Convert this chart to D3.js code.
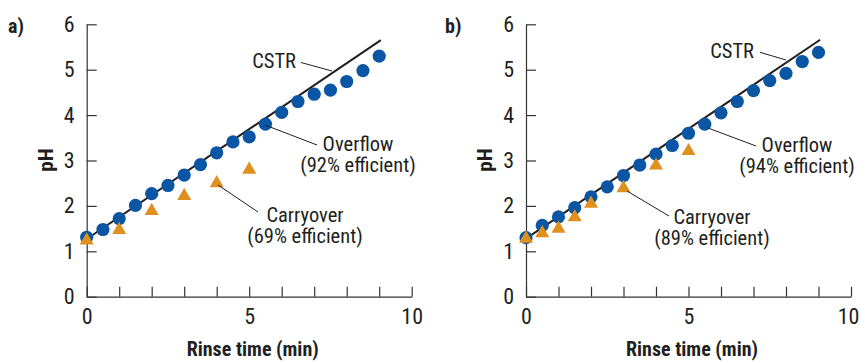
<!DOCTYPE html>
<html>
<head>
<meta charset="utf-8">
<script src="https://cdn.jsdelivr.net/npm/d3@7.9.0/dist/d3.min.js"></script>
<style>
  body { margin: 0; background: #fff; }
  svg { display: block; }
  text { font-family: "Liberation Sans Narrow", "Roboto Condensed", "DejaVu Sans Condensed", Roboto, sans-serif; fill: #231f20; }
</style>
</head>
<body>
<svg width="860" height="361"></svg>
<script>
// panel a
const overflowTimeA = [0, 0.5, 1, 1.5, 2, 2.5, 3, 3.5, 4, 4.5, 5, 5.5, 6, 6.5, 7, 7.5, 8, 8.5, 9];
const overflowPhA = [1.31, 1.48, 1.72, 2.01, 2.27, 2.45, 2.68, 2.91, 3.17, 3.41, 3.52, 3.80, 4.06, 4.30, 4.46, 4.55, 4.74, 4.98, 5.30];
const carryTimeA = [0, 1, 2, 3, 4, 5];
const carryPhA = [1.24, 1.47, 1.89, 2.22, 2.50, 2.80];
const cstrTimeA = [0, 9.05];
const cstrPhA = [1.27, 5.65];

// panel b
const overflowTimeB = [0, 0.5, 1, 1.5, 2, 2.5, 3, 3.5, 4, 4.5, 5, 5.5, 6, 6.5, 7, 7.5, 8, 8.5, 9];
const overflowPhB = [1.30, 1.57, 1.76, 1.96, 2.20, 2.42, 2.67, 2.90, 3.14, 3.33, 3.60, 3.80, 4.05, 4.30, 4.54, 4.76, 4.92, 5.18, 5.38];
const carryTimeB = [0, 0.5, 1, 1.5, 2, 3, 4, 5];
const carryPhB = [1.28, 1.40, 1.50, 1.75, 2.05, 2.39, 2.89, 3.21];
const cstrTimeB = [0, 9.05];
const cstrPhB = [1.28, 5.66];

const xTicks = [0, 1, 2, 3, 4, 5, 6, 7, 8, 9, 10];
const xTickLabels = [0, 5, 10];
const yTicks = [0, 1, 2, 3, 4, 5, 6];

const blue = '#0a56a4';
const orange = '#e0901e';
const ink = '#231f20';

const svg = d3.select('svg');

function drawPanel(p) {
  let g = svg.append('g').attr('transform', `translate(${p.left},0)`);
  let x = d3.scaleLinear().domain([0, 10]).range([0, 325]);
  let y = d3.scaleLinear().domain([0, 6]).range([296.7, 24.3]);

  let xAxis = d3.axisBottom(x).tickValues(xTicks).tickSizeInner(-10).tickSizeOuter(0).tickPadding(12)
    .tickFormat(d => xTickLabels.includes(d) ? d : '');
  let gx = g.append('g').attr('transform', 'translate(0,296.7)').call(xAxis);

  let yAxis = d3.axisLeft(y).tickValues(yTicks).tickFormat(d3.format('d'))
    .tickSizeInner(-10).tickSizeOuter(0).tickPadding(12);
  let gy = g.append('g').call(yAxis);

  [gx, gy].forEach(a => {
    a.selectAll('path, line').attr('stroke', '#333').attr('stroke-width', 1.2);
    a.selectAll('text').attr('font-size', 22).attr('font-family', null).attr('fill', ink);
  });
  // keep the last label inside the page
  gx.selectAll('.tick text').filter(d => d === 10).attr('dx', p.lastDx || 0);

  // panel letter
  g.append('text').attr('x', p.letterX - p.left).attr('y', 33)
    .attr('font-size', 20).attr('font-weight', 'bold').text(p.letter);

  // axis titles
  g.append('text').attr('transform', 'translate(-34,160) rotate(-90)')
    .attr('text-anchor', 'middle').attr('font-size', 21).attr('font-weight', 'bold').text('pH');
  g.append('text').attr('x', 166).attr('y', 356)
    .attr('text-anchor', 'middle').attr('font-size', 20).attr('font-weight', 'bold').text('Rinse time (min)');

  // CSTR line
  let line = d3.line().x(d => x(d[0])).y(d => y(d[1]));
  g.append('path').datum(d3.zip(p.cstrTime, p.cstrPh))
    .attr('d', line).attr('fill', 'none').attr('stroke', ink).attr('stroke-width', 2);

  // overflow circles
  g.selectAll('.dot').data(d3.zip(p.overTime, p.overPh)).join('circle')
    .attr('class', 'dot')
    .attr('cx', d => x(d[0])).attr('cy', d => y(d[1])).attr('r', 6.6).attr('fill', blue);

  // carryover triangles
  let tri = d3.symbol().type(d3.symbolTriangle).size(85);
  g.selectAll('.tri').data(d3.zip(p.carryTime, p.carryPh)).join('path')
    .attr('class', 'tri')
    .attr('d', tri)
    .attr('transform', d => `translate(${x(d[0])},${y(d[1])})`)
    .attr('fill', orange);

  // annotations
  p.notes.forEach(n => {
    g.append('line')
      .attr('x1', n.line[0] - p.left).attr('y1', n.line[1])
      .attr('x2', n.line[2] - p.left).attr('y2', n.line[3])
      .attr('stroke', ink).attr('stroke-width', 1);
    let t = g.append('text').attr('font-size', 20.5).attr('text-anchor', n.anchor || 'middle');
    n.text.forEach((s, i) => {
      t.append('tspan').attr('x', n.x - p.left).attr('y', n.y + i * 21).text(s);
    });
  });
}

drawPanel({
  left: 86.7, letter: 'a)', letterX: 8,
  overTime: overflowTimeA, overPh: overflowPhA,
  carryTime: carryTimeA, carryPh: carryPhA,
  cstrTime: cstrTimeA, cstrPh: cstrPhA,
  notes: [
    { text: ['CSTR'], x: 296, y: 68, anchor: 'end', line: [301, 62.5, 332, 71] },
    { text: ['Overflow', '(92% efficient)'], x: 358, y: 151, line: [265, 125, 317, 145] },
    { text: ['Carryover', '(69% efficient)'], x: 305, y: 222, line: [218, 185, 258, 212] }
  ]
});

drawPanel({
  left: 526, letter: 'b)', letterX: 445, lastDx: -3,
  overTime: overflowTimeB, overPh: overflowPhB,
  carryTime: carryTimeB, carryPh: carryPhB,
  cstrTime: cstrTimeB, cstrPh: cstrPhB,
  notes: [
    { text: ['CSTR'], x: 754, y: 58, anchor: 'end', line: [760, 52.3, 786, 60] },
    { text: ['Overflow', '(94% efficient)'], x: 797, y: 152, line: [708, 128, 756, 146] },
    { text: ['Carryover', '(89% efficient)'], x: 712, y: 224, line: [627, 191, 669, 216] }
  ]
});
</script>
</body>
</html>
